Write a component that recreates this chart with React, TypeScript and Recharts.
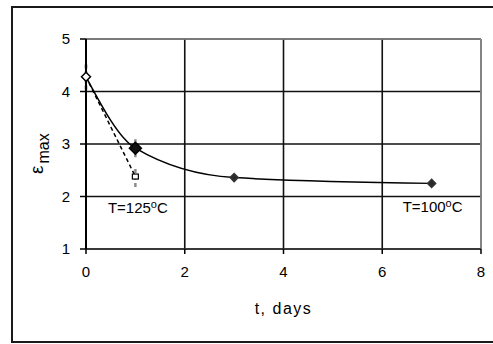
import React from "react";
import {
  LineChart,
  Line,
  XAxis,
  YAxis,
  CartesianGrid,
  ErrorBar,
  ReferenceLine,
  ReferenceDot,
  Label,
} from "recharts";

// Strain maximum vs. ageing time, two temperatures
const days100 = [0, 1, 3, 7];
const eps100 = [4.28, 2.92, 2.36, 2.25];
const err100 = [0.24, 0.17, 0.07, 0.07];

const days125 = [0, 1];
const eps125 = [4.28, 2.38];
const err125 = [0.24, 0.2];

const xTicks = [0, 2, 4, 6, 8];
const yTicks = [1, 2, 3, 4, 5];

const labels = [
  { t: 1.05, v: 1.78, temp: "125" },
  { t: 7.02, v: 1.8, temp: "100" },
];

const series100 = days100.map((t, i) => ({ t, eps: eps100[i], err: err100[i] }));
const series125 = days125.map((t, i) => ({ t, eps: eps125[i], err: err125[i] }));

const FONT = "'Liberation Sans', Arial, sans-serif";

const DiamondDot = (props: any) => {
  const { cx, cy, index } = props;
  if (cx == null || cy == null) return <g key={`d-${index}`} />;
  const open = index === 0;
  const s = open ? 4.5 : index === 1 ? 6 : 4;
  return (
    <polygon
      key={`d-${index}`}
      points={`${cx},${cy - s} ${cx + s},${cy} ${cx},${cy + s} ${cx - s},${cy}`}
      fill={open ? "#fff" : index === 1 ? "#111" : "#2a2a2a"}
      stroke={index > 1 ? "#333" : "#000"}
      strokeWidth={1.5}
    />
  );
};

const SquareDot = (props: any) => {
  const { cx, cy, index } = props;
  if (cx == null || cy == null || index === 0) return <g key={`s-${index}`} />;
  return (
    <rect
      key={`s-${index}`}
      x={cx - 3}
      y={cy - 2.5}
      width={6}
      height={5}
      fill="#fff"
      stroke="#000"
      strokeWidth={1.2}
    />
  );
};

const TempLabel = (temp: string) => (props: any) => {
  const { viewBox } = props;
  const x = viewBox.x + (viewBox.width || 0) / 2;
  const y = viewBox.y + (viewBox.height || 0) / 2;
  return (
    <text x={x} y={y + 5} textAnchor="middle" fontFamily={FONT} fontSize={15} fill="#000">
      {`T=${temp}`}
      <tspan fontSize={11} dy={-5}>o</tspan>
      <tspan dy={5}>C</tspan>
    </text>
  );
};

export default function App() {
  return (
    <div style={{ position: "absolute", left: 0, top: 0, width: 493, height: 344, background: "#fff" }}>
      <div
        style={{
          position: "absolute",
          left: 11,
          top: 6,
          width: 500,
          height: 333,
          border: "2px solid #1a1a1a",
        }}
      />
      <div style={{ position: "absolute", left: 0, top: 0 }}>
        <LineChart
          width={493}
          height={344}
          margin={{ top: 39, right: 12, bottom: 65, left: 46 }}
        >
          <CartesianGrid stroke="#111" strokeWidth={1.6} />
          <XAxis
            type="number"
            dataKey="t"
            domain={[0, 8]}
            ticks={xTicks}
            height={30}
            tickSize={5}
            tickMargin={12}
            axisLine={{ stroke: "#333", strokeWidth: 1.5 }}
            tickLine={{ stroke: "#000", strokeWidth: 1.5 }}
            tick={{ fill: "#000", fontSize: 15, fontFamily: FONT }}
          >
            <Label
              content={(p: any) => (
                <text
                  x={p.viewBox.x + p.viewBox.width / 2}
                  y={p.viewBox.y + 65}
                  textAnchor="middle"
                  fontFamily={FONT}
                  fontSize={16}
                  letterSpacing={1.5}
                  fill="#000"
                >
                  t, days
                </text>
              )}
            />
          </XAxis>
          <YAxis
            type="number"
            domain={[1, 5]}
            ticks={yTicks}
            width={40}
            tickSize={6}
            tickMargin={10}
            axisLine={{ stroke: "#000", strokeWidth: 2 }}
            tickLine={{ stroke: "#000", strokeWidth: 1.5 }}
            tick={{ fill: "#000", fontSize: 15, fontFamily: FONT }}
          >
            <Label
              content={() => (
                <text transform="translate(43,174) rotate(-90)" fontFamily={FONT} fill="#000">
                  <tspan fontSize={19}>ε</tspan>
                  <tspan fontSize={16} dx={2} dy={6}>max</tspan>
                </text>
              )}
            />
          </YAxis>
          <ReferenceLine y={5} stroke="#8a8a8a" strokeWidth={1.5} />
          <ReferenceLine x={8} stroke="#9a9a9a" strokeWidth={1.5} />
          <Line
            data={series125}
            dataKey="eps"
            type="linear"
            stroke="#000"
            strokeWidth={1.5}
            strokeDasharray="4 3"
            dot={SquareDot}
            isAnimationActive={false}
          >
            <ErrorBar dataKey="err" direction="y" width={0} stroke="#8c8c8c" strokeWidth={2.5} strokeDasharray="4 3" />
          </Line>
          <Line
            data={series100}
            dataKey="eps"
            type="monotone"
            stroke="#000"
            strokeWidth={1.5}
            dot={DiamondDot}
            isAnimationActive={false}
          >
            <ErrorBar dataKey="err" direction="y" width={0} stroke="#8c8c8c" strokeWidth={2.5} strokeDasharray="4 3" />
          </Line>
          {labels.map((l) => (
            <ReferenceDot
              key={l.temp}
              x={l.t}
              y={l.v}
              r={0}
              fill="none"
              stroke="none"
              label={TempLabel(l.temp)}
            />
          ))}
        </LineChart>
      </div>
    </div>
  );
}
